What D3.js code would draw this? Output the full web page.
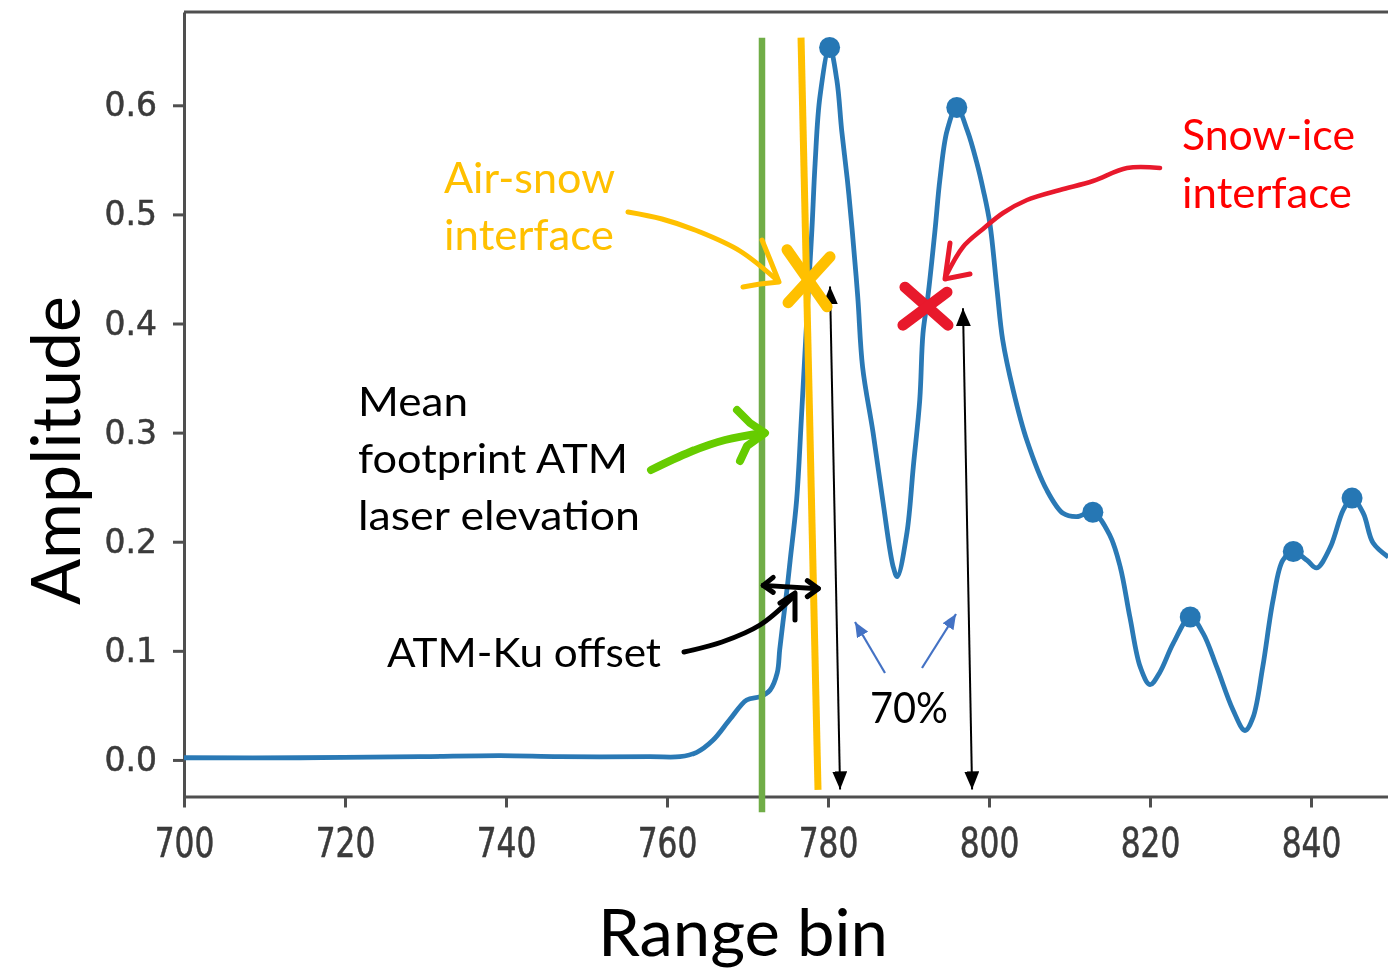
<!DOCTYPE html>
<html>
<head>
<meta charset="utf-8">
<script src="https://cdn.jsdelivr.net/npm/d3@7"></script>
<style>
  body { margin: 0; background: #fff; }
  svg { display: block; }
</style>
</head>
<body>
<svg id="chart" width="1388" height="970"></svg>
<script>
// Radar waveform samples: range bin vs. amplitude
const rangeBin = [700.0, 714.4, 729.3, 739.3, 746.7, 757.9, 761.6, 763.7, 765.7, 767.8, 769.9, 771.6, 772.8, 773.7, 774.0, 774.4, 774.9, 775.3, 776.1, 776.7, 777.5, 778.0, 778.4, 779.0, 780.2, 781.1, 781.7, 782.4, 783.0, 783.7, 784.3, 785.6, 786.8, 788.1, 788.6, 789.8, 790.6, 791.4, 791.8, 792.4, 793.3, 793.9, 794.8, 796.0, 797.3, 798.5, 799.3, 800.1, 801.0, 801.7, 803.0, 804.7, 807.2, 809.2, 810.9, 812.9, 815.0, 816.3, 817.5, 818.8, 820.0, 821.2, 822.9, 825.0, 826.6, 828.3, 830.3, 831.8, 832.8, 834.0, 835.3, 836.5, 837.8, 839.5, 840.7, 842.4, 844.0, 845.1, 846.5, 847.7, 849.6];
const amplitude = [0.002, 0.002, 0.003, 0.004, 0.003, 0.003, 0.003, 0.007, 0.018, 0.037, 0.055, 0.058, 0.064, 0.080, 0.101, 0.126, 0.156, 0.183, 0.238, 0.314, 0.422, 0.486, 0.547, 0.608, 0.653, 0.623, 0.577, 0.532, 0.486, 0.424, 0.360, 0.300, 0.238, 0.177, 0.168, 0.208, 0.269, 0.330, 0.391, 0.424, 0.486, 0.532, 0.577, 0.598, 0.577, 0.547, 0.522, 0.492, 0.431, 0.385, 0.339, 0.293, 0.247, 0.226, 0.223, 0.227, 0.206, 0.177, 0.131, 0.085, 0.069, 0.080, 0.107, 0.131, 0.116, 0.085, 0.046, 0.027, 0.039, 0.085, 0.147, 0.183, 0.191, 0.183, 0.176, 0.195, 0.229, 0.240, 0.226, 0.199, 0.186];

// Detected peaks
const peakBin = [780.2, 796.0, 812.9, 825.0, 837.8, 845.1];
const peakAmp = [0.653, 0.598, 0.227, 0.131, 0.191, 0.240];

// Axis ticks
const xTickValues = [700, 720, 740, 760, 780, 800, 820, 840];
const yTickValues = [0.0, 0.1, 0.2, 0.3, 0.4, 0.5, 0.6];

// Interface picks and reference lines (range bin, amplitude)
const atmLineBin = 771.8;
const airSnowLine = [[776.65, 0.662], [778.76, -0.0275]];
const airSnowPick = [777.52, 0.441];
const snowIcePick = [792.17, 0.415];
const threshArrowA = [[781.5, -0.027], [780.25, 0.434]];
const threshArrowB = [[797.9, -0.027], [796.77, 0.414]];
const offsetArrow = [[771.95, 0.160], [778.8, 0.157]];

const W = 1388, H = 970;
const svg = d3.select("#chart");
svg.append("rect").attr("width", W).attr("height", H).attr("fill", "#fff");

const defs = svg.append("defs");
defs.append("filter").attr("id", "soft")
  .attr("x", "-10%").attr("y", "-10%").attr("width", "120%").attr("height", "120%")
  .append("feGaussianBlur").attr("stdDeviation", 0.75);
defs.append("clipPath").attr("id", "plotClip")
  .append("rect").attr("x", 184).attr("y", 12).attr("width", W - 184).attr("height", 785);

function arrowMarker(id, color, len, wid) {
  defs.append("marker").attr("id", id)
    .attr("viewBox", `0 0 ${len} ${wid}`)
    .attr("refX", len).attr("refY", wid / 2)
    .attr("markerWidth", len).attr("markerHeight", wid)
    .attr("markerUnits", "userSpaceOnUse")
    .attr("orient", "auto-start-reverse")
    .append("path").attr("d", `M0,0L${len},${wid / 2}L0,${wid}Z`).attr("fill", color);
}
arrowMarker("headBlack", "#000", 18, 15);
arrowMarker("headBlue", "#4472C4", 15, 13);

const x = d3.scaleLinear().domain([700, 850]).range([184, 1391.5]);
const y = d3.scaleLinear().domain([-0.0335, 0.6855]).range([796.5, 12]);

// ---- axes ----
const axisG = svg.append("g").attr("filter", "url(#soft)");
const gx = axisG.append("g")
  .attr("transform", `translate(0,${y.range()[0]})`)
  .call(d3.axisBottom(x).tickValues(xTickValues).tickFormat(d3.format("d"))
    .tickSize(11).tickSizeOuter(0).tickPadding(16));
const gy = axisG.append("g")
  .attr("transform", `translate(${x.range()[0]},0)`)
  .call(d3.axisLeft(y).tickValues(yTickValues).tickFormat(d3.format(".1f"))
    .tickSize(11).tickSizeOuter(0).tickPadding(16));
axisG.append("line")
  .attr("x1", x.range()[0]).attr("x2", W)
  .attr("y1", y.range()[1]).attr("y2", y.range()[1]);
axisG.selectAll("path.domain, line")
  .attr("stroke", "#505050").attr("stroke-width", 3);
axisG.selectAll(".tick line").attr("stroke", "#505050").attr("stroke-width", 3);
axisG.selectAll(".tick text")
  .attr("font-family", "DejaVu Sans").attr("font-size", 33)
  .attr("fill", "#3a3a3a").attr("stroke", "#3a3a3a").attr("stroke-width", 0.5);
// taller glyphs for the bottom tick labels
gx.selectAll(".tick text").attr("font-size", 34)
  .attr("transform", "scale(0.92,1.18)");

// ---- waveform ----
const pts = rangeBin.map((b, i) => [x(b), y(amplitude[i])]);
const plot = svg.append("g").attr("clip-path", "url(#plotClip)");
const wave = plot.append("g").attr("filter", "url(#soft)");
wave.append("path")
  .attr("d", d3.line().curve(d3.curveCatmullRom.alpha(0.5))(pts))
  .attr("fill", "none").attr("stroke", "#2a79b5").attr("stroke-width", 4.8)
  .attr("stroke-linejoin", "round");
wave.selectAll("circle").data(peakBin).join("circle")
  .attr("cx", d => x(d)).attr("cy", (d, i) => y(peakAmp[i]))
  .attr("r", 10.5).attr("fill", "#2677b4");

// ---- reference lines ----
const ann = svg.append("g");
ann.append("line")
  .attr("x1", x(atmLineBin)).attr("x2", x(atmLineBin))
  .attr("y1", y(0.662)).attr("y2", y(-0.048))
  .attr("stroke", "#70AD47").attr("stroke-width", 6.5);
ann.append("line")
  .attr("x1", x(airSnowLine[0][0])).attr("y1", y(airSnowLine[0][1]))
  .attr("x2", x(airSnowLine[1][0])).attr("y2", y(airSnowLine[1][1]))
  .attr("stroke", "#FFC000").attr("stroke-width", 7);

// 70 % threshold arrows
[threshArrowA, threshArrowB].forEach(a => {
  ann.append("line")
    .attr("x1", x(a[0][0])).attr("y1", y(a[0][1]))
    .attr("x2", x(a[1][0])).attr("y2", y(a[1][1]))
    .attr("stroke", "#000").attr("stroke-width", 2)
    .attr("marker-start", "url(#headBlack)").attr("marker-end", "url(#headBlack)");
});

// hand-drawn strokes
function stroke(points, color, width, curve) {
  return ann.append("path")
    .attr("d", d3.line().curve(curve || d3.curveCatmullRom.alpha(0.5))(points))
    .attr("fill", "none").attr("stroke", color).attr("stroke-width", width)
    .attr("stroke-linecap", "round").attr("stroke-linejoin", "round");
}
function cross(center, color, a, b) {
  const cx = x(center[0]), cy = y(center[1]);
  stroke([[cx + a[0], cy + a[1]], [cx + a[2], cy + a[3]]], color, 11, d3.curveLinear);
  stroke([[cx + b[0], cy + b[1]], [cx + b[2], cy + b[3]]], color, 11, d3.curveLinear);
}
cross(airSnowPick, "#FFC000", [-21, -29, 19, 28], [22, -22, -20, 24]);
cross(snowIcePick, "#E8192C", [-21, -20, 22, 18], [21, -15, -23, 18]);

// ATM-Ku offset double arrow
const oy0 = y(offsetArrow[0][1]), oy1 = y(offsetArrow[1][1]);
const ox0 = x(offsetArrow[0][0]), ox1 = x(offsetArrow[1][0]);
stroke([[ox0, oy0], [ox1, oy1]], "#000", 5, d3.curveLinear);
stroke([[ox0 + 10, oy0 - 8], [ox0, oy0], [ox0 + 10, oy0 + 7]], "#000", 5, d3.curveLinear);
stroke([[ox1 - 11, oy1 - 8], [ox1, oy1], [ox1 - 11, oy1 + 8]], "#000", 5, d3.curveLinear);

// callout arrows
stroke([[628, 212], [662, 219], [700, 232], [740, 251], [778, 281]], "#FFC000", 5);
stroke([[762, 240], [771, 262], [779, 282], [760, 284], [743, 287]], "#FFC000", 5, d3.curveLinear);

stroke([[1160, 168], [1127, 168], [1093, 181], [1060, 190], [1027, 200], [1003, 213], [983, 229], [963, 247], [946, 276]], "#E8192C", 4.5);
stroke([[950, 243], [945, 279], [970, 274]], "#E8192C", 5, d3.curveLinear);

stroke([[651, 470], [690, 452], [725, 440], [764, 433]], "#66CC00", 8);
stroke([[737, 410], [750, 423], [765, 433], [747, 446], [740, 461]], "#66CC00", 8, d3.curveLinear);

stroke([[684, 652], [722, 642], [760, 625], [792, 598]], "#000", 5);
stroke([[780, 603], [795, 593], [795, 620]], "#000", 5, d3.curveLinear);

// blue pointers for the 70 % label
[[[885, 673], [855, 622]], [[922, 668], [956, 614]]].forEach(p => {
  ann.append("line")
    .attr("x1", p[0][0]).attr("y1", p[0][1]).attr("x2", p[1][0]).attr("y2", p[1][1])
    .attr("stroke", "#4472C4").attr("stroke-width", 2.2)
    .attr("marker-end", "url(#headBlue)");
});

// ---- text ----
const labelFont = "Lato, 'Open Sans', sans-serif";
function label(str, tx, ty, size, color, len) {
  return svg.append("text").attr("x", tx).attr("y", ty)
    .attr("font-family", labelFont).attr("font-size", size).attr("fill", color)
    .attr("textLength", len).attr("lengthAdjust", "spacingAndGlyphs")
    .text(str);
}
label("Air-snow", 444, 193, 42, "#FFC000", 171);
label("interface", 444, 250, 42, "#FFC000", 170);
label("Snow-ice", 1182, 150, 42, "#FF0000", 173);
label("interface", 1182, 208, 42, "#FF0000", 170);
label("Mean", 358, 416, 40, "#000", 110);
label("footprint ATM", 358, 473, 40, "#000", 270);
label("laser elevation", 358, 530, 40, "#000", 282);
label("ATM-Ku offset", 387, 667, 40, "#000", 274);
label("70%", 870, 723, 43, "#000", 78);

// axis titles
label("Range bin", 598, 956, 66, "#000", 290);
svg.append("text")
  .attr("transform", "translate(80,450.5) rotate(-90)")
  .attr("text-anchor", "middle")
  .attr("font-family", labelFont).attr("font-size", 67).attr("fill", "#000")
  .attr("textLength", 309).attr("lengthAdjust", "spacingAndGlyphs")
  .text("Amplitude");
</script>
</body>
</html>
